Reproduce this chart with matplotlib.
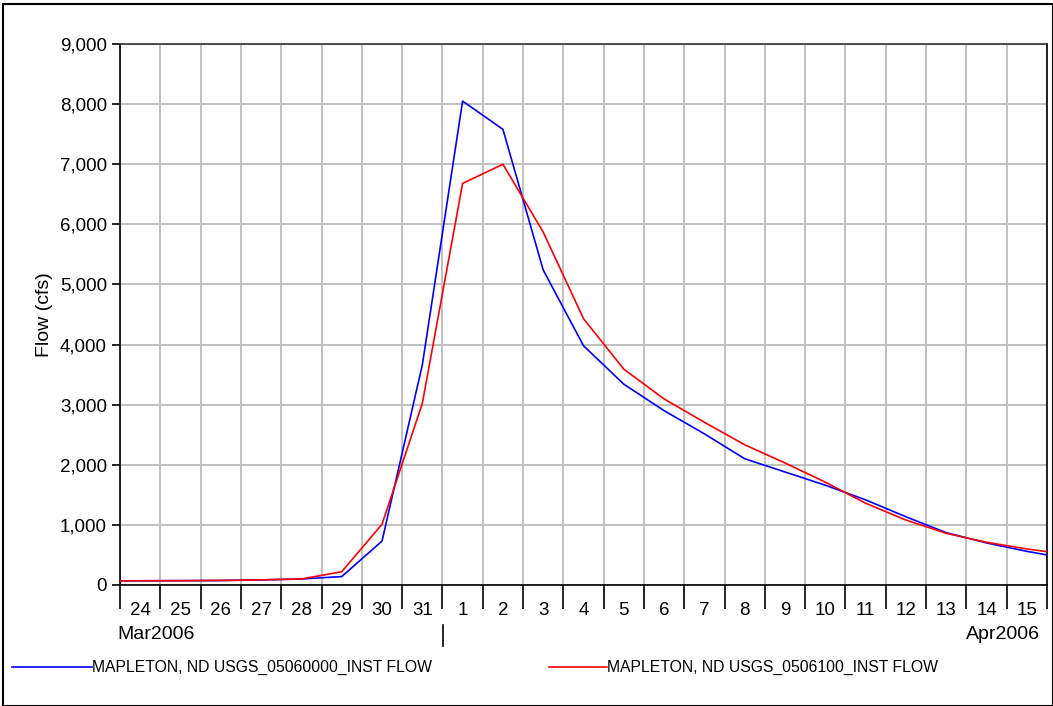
import matplotlib.pyplot as plt
import numpy as np
from matplotlib.patches import Rectangle

plt.rcParams['font.family'] = ['Liberation Sans', 'DejaVu Sans']

# daily values, plotted at noon; first/last are the days just off the chart edges
days = np.arange(-1, 24) + 0.5   # days after 24 Mar 2006 00:00
day_labels = ['24', '25', '26', '27', '28', '29', '30', '31',
              '1', '2', '3', '4', '5', '6', '7', '8', '9', '10',
              '11', '12', '13', '14', '15']
blue_flow = [65, 70, 72, 75, 85, 100, 140, 730, 3660, 8050, 7580, 5240, 3980,
             3340, 2900, 2514, 2100, 1880, 1660, 1416, 1135, 870, 700, 560, 440]
red_flow = [65, 70, 72, 75, 85, 100, 220, 1010, 3020, 6680, 7000, 5870, 4430,
            3590, 3095, 2707, 2332, 2030, 1710, 1360, 1080, 860, 710, 600, 510]
blue_name = 'MAPLETON, ND USGS_05060000_INST FLOW'
red_name = 'MAPLETON, ND USGS_0506100_INST FLOW'

fig = plt.figure(figsize=(10.53, 7.06), dpi=100)
ax = fig.add_axes([0.114, 0.1714, 0.8803, 0.7663])

ax.plot(days, blue_flow, color='#0000ff', lw=1.2, zorder=3)
ax.plot(days, red_flow, color='#ff0000', lw=1.2, zorder=3)

ax.set_xlim(0, 23)
ax.set_ylim(0, 9000)
ax.set_xticks(np.arange(0, 24))
ax.set_xticks(np.arange(0, 23) + 0.5, minor=True)
ax.set_xticklabels([])
ax.set_xticklabels(day_labels, minor=True)
ax.tick_params(axis='x', which='major', length=17, width=1.2, direction='out')
ax.tick_params(axis='x', which='minor', length=0, labelsize=13.5, pad=12)
ax.set_yticks(np.arange(0, 9001, 1000))
ax.set_yticklabels([f'{v:,}' for v in range(0, 9001, 1000)])
ax.tick_params(axis='y', length=6, width=1.2, labelsize=13.5)
ax.set_ylabel('Flow (cfs)', fontsize=14, labelpad=5)

ax.grid(True, which='major', color='#c0c0c0', lw=1.4)
ax.set_axisbelow(True)
for s in ax.spines.values():
    s.set_linewidth(1.2)
ax.spines['top'].set_color('#333333')

# month labels under the axis
fig.text(0.111, 0.101, 'Mar2006', fontsize=14, va='center', ha='left')
fig.text(0.988, 0.101, 'Apr2006', fontsize=14, va='center', ha='right')
fig.add_artist(plt.Line2D([443 / 1053, 443 / 1053], [1 - 625 / 706, 1 - 646 / 706],
                          color='black', lw=1.2))

# legend
fig.add_artist(plt.Line2D([12 / 1053, 92 / 1053], [1 - 667 / 706] * 2, color='#0000ff', lw=1.2))
fig.text(92 / 1053, 1 - 667 / 706, blue_name, fontsize=11.3, va='center', ha='left')
fig.add_artist(plt.Line2D([549 / 1053, 607 / 1053], [1 - 667 / 706] * 2, color='#ff0000', lw=1.2))
fig.text(607 / 1053, 1 - 667 / 706, red_name, fontsize=11.3, va='center', ha='left')

fig.add_artist(Rectangle((0.003, 0.0), 0.997, 0.994, transform=fig.transFigure,
                         fill=False, edgecolor='black', lw=1.5))

fig.savefig('out.png', dpi=100)
